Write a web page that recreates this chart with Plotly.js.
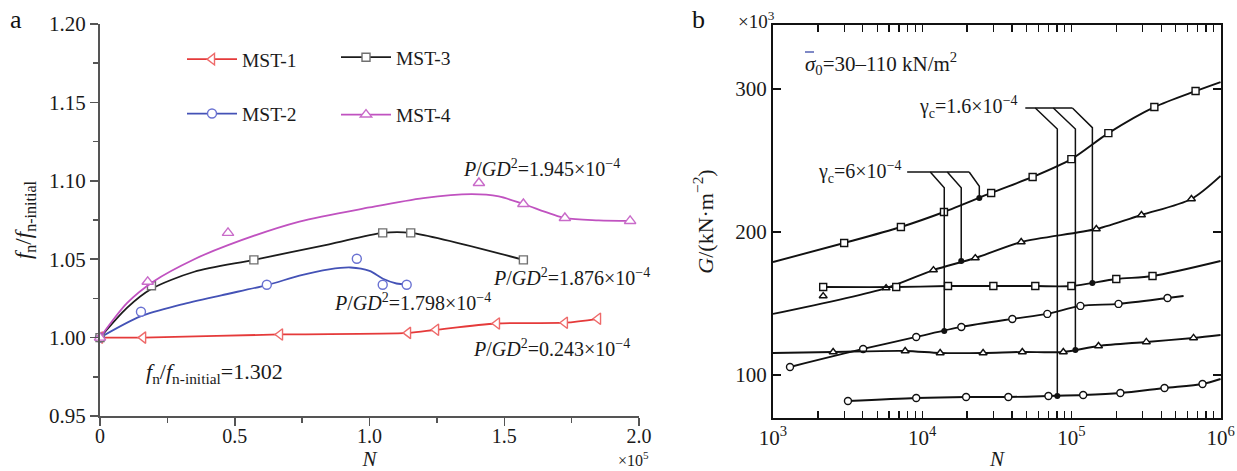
<!DOCTYPE html>
<html><head><meta charset="utf-8">
<script src="https://cdn.plot.ly/plotly-3.0.1.min.js"></script>
<style>html,body{margin:0;padding:0;background:#fff}#chart{width:1237px;height:471px}</style>
</head><body><div id="chart"></div>
<script>
// ---------------- Panel a data (N in units of 1e5) ----------------
const mst1N = [0, 0.16, 0.668, 1.143, 1.247, 1.473, 1.725, 1.848];
const mst1R = [1.000, 1.000, 1.002, 1.003, 1.005, 1.009, 1.0095, 1.012];
const mst1LineN = [0, 0.16, 0.668, 1.143, 1.247, 1.473, 1.725, 1.848];
const mst1LineR = [1.000, 1.000, 1.002, 1.003, 1.005, 1.009, 1.0095, 1.012];

const mst2N = [0, 0.152, 0.619, 0.953, 1.049, 1.138];
const mst2R = [1.000, 1.0165, 1.0337, 1.0503, 1.0337, 1.0337];
const mst2LineN = [0, 0.15, 0.3, 0.45, 0.62, 0.74, 0.85, 0.93, 1.0, 1.05, 1.1, 1.14];
const mst2LineR = [1.0, 1.0135, 1.021, 1.027, 1.0335, 1.0395, 1.0435, 1.0447, 1.0425, 1.0375, 1.0345, 1.034];

const mst3N = [0, 0.191, 0.571, 1.049, 1.153, 1.571];
const mst3R = [1.000, 1.0331, 1.0496, 1.0668, 1.0668, 1.0496];
const mst3LineN = [0, 0.1, 0.19, 0.35, 0.571, 0.85, 1.049, 1.153, 1.571];
const mst3LineR = [1.0, 1.019, 1.031, 1.042, 1.0496, 1.0595, 1.0668, 1.0668, 1.0496];

const mst4N = [0, 0.177, 0.475, 1.406, 1.571, 1.725, 1.967];
const mst4R = [1.000, 1.0356, 1.0668, 1.0986, 1.0852, 1.0763, 1.0744];
const mst4LineN = [0, 0.1, 0.2, 0.35, 0.475, 0.74, 1.0, 1.2, 1.38, 1.48, 1.571, 1.725, 1.85, 1.967];
const mst4LineR = [1.0, 1.022, 1.036, 1.050, 1.059, 1.074, 1.083, 1.089, 1.0915, 1.090, 1.0852, 1.0763, 1.0748, 1.0744];

const aXTickVals = [0, 0.5, 1.0, 1.5, 2.0];
const aXTickText = ['0', '0.5', '1.0', '1.5', '2.0'];
const aXMinor = [0.25, 0.75, 1.25, 1.75];
const aYTickVals = [0.95, 1.00, 1.05, 1.10, 1.15, 1.20];
const aYTickText = ['0.95', '1.00', '1.05', '1.10', '1.15', '1.20'];
const aYMinor = [0.975, 1.025, 1.075, 1.125, 1.175];

// ---------------- Panel b data ----------------
const curveA_N = [3000, 7200, 14000, 29000, 55000, 100000, 177000, 360000, 680000];
const curveA_G = [192.3, 203.5, 214.0, 227.3, 238.5, 251.0, 269.2, 287.4, 298.6];
const curveA_lineN = [1000, 3000, 7200, 14000, 29000, 55000, 100000, 177000, 360000, 680000, 1000000];
const curveA_lineG = [179.0, 192.3, 203.5, 214.0, 227.3, 238.5, 251.0, 269.2, 287.4, 298.6, 304.9];

const curveB_N = [2170, 5730, 11900, 22700, 46100, 147000, 295000, 638000];
const curveB_G = [155.2, 160.8, 173.4, 181.8, 193.0, 202.1, 211.9, 223.1];
const curveB_lineN = [1000, 5730, 11900, 22700, 46100, 147000, 295000, 638000, 1000000];
const curveB_lineG = [142.7, 160.8, 173.4, 181.8, 193.0, 202.1, 211.9, 223.1, 239.2];

const curveC_N = [2170, 6700, 14900, 30000, 57300, 100000, 200000, 350000];
const curveC_G = [161.5, 161.5, 162.2, 162.2, 162.2, 162.2, 167.1, 169.2];
const curveC_lineN = [2170, 6700, 14900, 30000, 57300, 100000, 200000, 350000, 1000000];
const curveC_lineG = [161.5, 161.5, 162.2, 162.2, 162.2, 162.2, 167.1, 169.2, 179.7];

const curveD_N = [1300, 4020, 9120, 18300, 40200, 69000, 115000, 207000, 441000];
const curveD_G = [105.6, 118.2, 126.6, 133.6, 139.2, 142.7, 148.3, 149.7, 153.8];
const curveD_lineN = [1300, 4020, 9120, 18300, 40200, 69000, 115000, 207000, 441000, 565000];
const curveD_lineG = [105.6, 118.2, 126.6, 133.6, 139.2, 142.7, 148.3, 149.7, 153.8, 155.2];

const curveE_N = [2530, 7690, 13200, 25600, 46900, 88300, 152000, 318000, 659000];
const curveE_G = [116.1, 116.8, 115.4, 115.4, 116.1, 116.1, 120.3, 123.1, 125.9];
const curveE_lineN = [1000, 2530, 7690, 13200, 25600, 46900, 88300, 152000, 318000, 659000, 1000000];
const curveE_lineG = [115.4, 116.1, 116.8, 115.4, 115.4, 116.1, 116.1, 120.3, 123.1, 125.9, 128.0];

const curveF_N = [3180, 9120, 19700, 37800, 70200, 120000, 213000, 421000, 757000];
const curveF_G = [81.8, 83.9, 84.6, 84.6, 85.3, 86.0, 87.4, 90.9, 93.7];
const curveF_lineN = [3180, 9120, 19700, 37800, 70200, 120000, 213000, 421000, 757000, 1000000];
const curveF_lineG = [81.8, 83.9, 84.6, 84.6, 85.3, 86.0, 87.4, 90.9, 93.7, 97.2];

// leader lines (gamma_c = 6e-4 and 1.6e-4)
const lead6N = [7930, 20650, null, 11330, 14060, 14060, null, 14730, 18270, 18270, null, 20650, 24150, 24150];
const lead6G = [242, 242, null, 242, 231, 130.8, null, 242, 231, 179.7, null, 242, 232, 223.8];
const lead16N = [49100, 101600, null, 57300, 80500, 80500, null, 75700, 106400, 106400, null, 101600, 138300, 138300];
const lead16G = [286.7, 286.7, null, 286.7, 272, 85.3, null, 286.7, 272, 117.5, null, 286.7, 273, 164.3];
const dotN = [1000, 14060, 18270, 24150, 80500, 106400, 138300];
const dotG = [179.0, 130.8, 179.7, 223.8, 85.3, 117.5, 164.3];

const bXTickVals = [1e3, 1e4, 1e5, 1e6];
const bXTickText = ['10<sup>3</sup>', '10<sup>4</sup>', '10<sup>5</sup>', '10<sup>6</sup>'];
const bXMinor = [];
for (let e = 3; e <= 5; e++) {
  for (let m = 2; m <= 9; m++) bXMinor.push(m * Math.pow(10, e));
}
const bYTickVals = [100, 200, 300];
const bYTickText = ['100', '200', '300'];

// ---------------- Build ----------------
const SERIF = 'Liberation Serif, Times New Roman, serif';
const TXT = '#1a1a1a';
const traces = [];

function seriesA(lineN, lineR, N, R, name, lc, mc, sym, ms, leg, grp) {
  traces.push({x: lineN, y: lineR, mode: 'lines', line: {color: lc, width: 1.8, shape: 'spline', smoothing: 0.8},
    showlegend: false, hoverinfo: 'skip', xaxis: 'x', yaxis: 'y', cliponaxis: false});
  traces.push({x: N, y: R, mode: 'markers', marker: {symbol: sym, size: ms, color: 'white', line: {color: mc, width: 1.4}},
    showlegend: false, xaxis: 'x', yaxis: 'y', cliponaxis: false});
  traces.push({x: [null], y: [null], mode: 'lines+markers', name: name, legend: leg, legendgroup: grp,
    line: {color: lc, width: 1.8}, marker: {symbol: sym, size: ms, color: 'white', line: {color: mc, width: 1.4}},
    xaxis: 'x', yaxis: 'y'});
}
seriesA(mst1LineN, mst1LineR, mst1N, mst1R, 'MST-1', '#e53a3a', '#ee6a6a', 'triangle-left', 10, 'legend', 'g1');
seriesA(mst2LineN, mst2LineR, mst2N, mst2R, 'MST-2', '#4452b6', '#6a72d2', 'circle', 9, 'legend', 'g2');
seriesA(mst3LineN, mst3LineR, mst3N, mst3R, 'MST-3', '#1c1c1c', '#707070', 'square', 8, 'legend2', 'g3');
seriesA(mst4LineN, mst4LineR, mst4N, mst4R, 'MST-4', '#c052c0', '#c96bc9', 'triangle-up', 10, 'legend2', 'g4');

function seriesB(lineN, lineG, N, G, sym) {
  traces.push({x: lineN, y: lineG, mode: 'lines', line: {color: '#111', width: 1.9, shape: 'spline', smoothing: 0.8},
    showlegend: false, hoverinfo: 'skip', xaxis: 'x2', yaxis: 'y2'});
  traces.push({x: N, y: G, mode: 'markers', marker: {symbol: sym, size: 7, color: 'white', line: {color: '#111', width: 1.4}},
    showlegend: false, xaxis: 'x2', yaxis: 'y2', cliponaxis: false});
}
seriesB(curveA_lineN, curveA_lineG, curveA_N, curveA_G, 'square');
seriesB(curveB_lineN, curveB_lineG, curveB_N, curveB_G, 'triangle-up');
seriesB(curveC_lineN, curveC_lineG, curveC_N, curveC_G, 'square');
seriesB(curveD_lineN, curveD_lineG, curveD_N, curveD_G, 'circle');
seriesB(curveE_lineN, curveE_lineG, curveE_N, curveE_G, 'triangle-up');
seriesB(curveF_lineN, curveF_lineG, curveF_N, curveF_G, 'circle');
traces.push({x: lead6N, y: lead6G, mode: 'lines', line: {color: '#111', width: 1.5}, connectgaps: false,
  showlegend: false, hoverinfo: 'skip', xaxis: 'x2', yaxis: 'y2'});
traces.push({x: lead16N, y: lead16G, mode: 'lines', line: {color: '#111', width: 1.5}, connectgaps: false,
  showlegend: false, hoverinfo: 'skip', xaxis: 'x2', yaxis: 'y2'});
traces.push({x: dotN, y: dotG, mode: 'markers', marker: {symbol: 'circle', size: 6, color: '#111'},
  showlegend: false, xaxis: 'x2', yaxis: 'y2', cliponaxis: false});

const W = 1237, H = 471;
const px = v => v / W, py = v => 1 - v / H;
const tfont = {family: SERIF, size: 21, color: TXT};
const afont = {family: SERIF, size: 20, color: TXT};

function ann(text, x, y, opts) {
  return Object.assign({text: text, xref: 'paper', yref: 'paper', x: x, y: y, showarrow: false,
    xanchor: 'center', yanchor: 'middle', font: afont}, opts || {});
}

const layout = {
  width: W, height: H, margin: {l: 0, r: 0, t: 0, b: 0},
  paper_bgcolor: 'white', plot_bgcolor: 'rgba(0,0,0,0)',
  font: {family: SERIF, size: 20, color: TXT},
  showlegend: true, hovermode: false,
  xaxis: {domain: [px(100), px(639)], range: [0, 2.0], anchor: 'y',
    tickmode: 'array', tickvals: aXTickVals, ticktext: aXTickText,
    ticks: 'outside', ticklen: 8, tickwidth: 1.5, tickcolor: '#555', ticklabelstandoff: -7,
    minor: {tickmode: 'array', tickvals: aXMinor, ticks: 'outside', ticklen: 5, tickwidth: 1.5, tickcolor: '#555'},
    showline: true, linecolor: '#555', linewidth: 2, showgrid: false, zeroline: false,
    tickfont: {family: SERIF, size: 20, color: TXT},
    title: {text: '<i>N</i>', font: {family: SERIF, size: 21, color: TXT}, standoff: 6}},
  yaxis: {domain: [1 - 416 / H, 1 - 24 / H], range: [0.95, 1.20], anchor: 'x',
    tickmode: 'array', tickvals: aYTickVals, ticktext: aYTickText,
    ticks: 'outside', ticklen: 8, tickwidth: 1.5, tickcolor: '#555',
    minor: {tickmode: 'array', tickvals: aYMinor, ticks: 'outside', ticklen: 5, tickwidth: 1.5, tickcolor: '#555'},
    showline: true, linecolor: '#555', linewidth: 2, showgrid: false, zeroline: false,
    tickfont: tfont,
    title: {text: '<i>f</i><sub>n</sub>/<i>f</i><sub>n-initial</sub>', font: {family: SERIF, size: 23, color: TXT}, standoff: 11}},
  xaxis2: {type: 'log', domain: [px(773), px(1221)], range: [3, 6.003], anchor: 'y2',
    tickmode: 'array', tickvals: bXTickVals, ticktext: bXTickText,
    ticks: 'inside', ticklen: 7, tickwidth: 1.3, tickcolor: '#111',
    minor: {tickmode: 'array', tickvals: bXMinor, ticks: 'inside', ticklen: 7, tickwidth: 1.3, tickcolor: '#111'},
    showline: true, mirror: 'ticks', linecolor: '#111', linewidth: 2, showgrid: false, zeroline: false,
    tickfont: tfont,
    title: {text: '<i>N</i>', font: {family: SERIF, size: 21, color: TXT}, standoff: 4}},
  yaxis2: {domain: [1 - 418 / H, 1 - 25 / H], range: [69.9, 344.8], anchor: 'x2',
    tickmode: 'array', tickvals: bYTickVals, ticktext: bYTickText,
    ticks: 'inside', ticklen: 8, tickwidth: 1.5, tickcolor: '#111',
    showline: true, mirror: 'ticks', linecolor: '#111', linewidth: 2, showgrid: false, zeroline: false,
    tickfont: tfont,
    title: {text: '<i>G</i>/(kN·m<sup>−2</sup>)', font: {family: SERIF, size: 22, color: TXT}, standoff: 16}},
  legend: {x: px(182), y: py(40), xanchor: 'left', yanchor: 'top', bgcolor: 'rgba(0,0,0,0)', itemwidth: 50,
    font: {family: SERIF, size: 19.5, color: TXT}, traceorder: 'grouped', tracegroupgap: 26},
  legend2: {x: px(336), y: py(38), xanchor: 'left', yanchor: 'top', bgcolor: 'rgba(0,0,0,0)', itemwidth: 50,
    font: {family: SERIF, size: 19.5, color: TXT}, traceorder: 'grouped', tracegroupgap: 29},
  shapes: [
    // overline of the sigma symbol in the stress label
    {type: 'line', xref: 'paper', yref: 'paper', x0: px(805), x1: px(814), y0: py(52), y1: py(52),
      line: {color: '#3a4aa8', width: 1.3}}
  ],
  annotations: [
    ann('a', px(16), py(20), {font: {family: SERIF, size: 26, color: '#111'}}),
    ann('b', px(698), py(20), {font: {family: SERIF, size: 26, color: '#111'}}),
    ann('×10<sup>5</sup>', px(633), py(459), {font: {family: SERIF, size: 16, color: TXT}}),
    ann('×10<sup>3</sup>', px(756), py(20), {font: {family: SERIF, size: 19, color: TXT}}),
    {text: '<i>P</i>/<i>GD</i><sup>2</sup>=1.945×10<sup>−4</sup>', xref: 'x', yref: 'y', x: 1.640, y: 1.1081, showarrow: false, xanchor: 'center', yanchor: 'middle', font: afont},
    {text: '<i>P</i>/<i>GD</i><sup>2</sup>=1.876×10<sup>−4</sup>', xref: 'x', yref: 'y', x: 1.751, y: 1.0388, showarrow: false, xanchor: 'center', yanchor: 'middle', font: afont},
    {text: '<i>P</i>/<i>GD</i><sup>2</sup>=1.798×10<sup>−4</sup>', xref: 'x', yref: 'y', x: 1.158, y: 1.0229, showarrow: false, xanchor: 'center', yanchor: 'middle', font: afont},
    {text: '<i>P</i>/<i>GD</i><sup>2</sup>=0.243×10<sup>−4</sup>', xref: 'x', yref: 'y', x: 1.677, y: 0.9936, showarrow: false, xanchor: 'center', yanchor: 'middle', font: afont},
    {text: '<i>f</i><sub>n</sub>/<i>f</i><sub>n-initial</sub>=1.302', xref: 'x', yref: 'y', x: 0.423, y: 0.9777, showarrow: false, xanchor: 'center', yanchor: 'middle', font: {family: SERIF, size: 22, color: TXT}},
    {text: '<i>σ</i><sub>0</sub>=30–110 kN/m<sup>2</sup>', xref: 'x2', yref: 'y2', x: Math.log10(1590), y: 318, xanchor: 'left', yanchor: 'middle', showarrow: false, font: {family: SERIF, size: 21, color: TXT}},
    {text: 'γ<sub>c</sub>=6×10<sup>−4</sup>', xref: 'x2', yref: 'y2', x: Math.log10(7500), y: 242, xanchor: 'right', yanchor: 'middle', showarrow: false, font: afont},
    {text: 'γ<sub>c</sub>=1.6×10<sup>−4</sup>', xref: 'x2', yref: 'y2', x: Math.log10(45000), y: 287.4, xanchor: 'right', yanchor: 'middle', showarrow: false, font: afont}
  ]
};

Plotly.newPlot('chart', traces, layout, {staticPlot: true, displayModeBar: false});
</script>
</body></html>
